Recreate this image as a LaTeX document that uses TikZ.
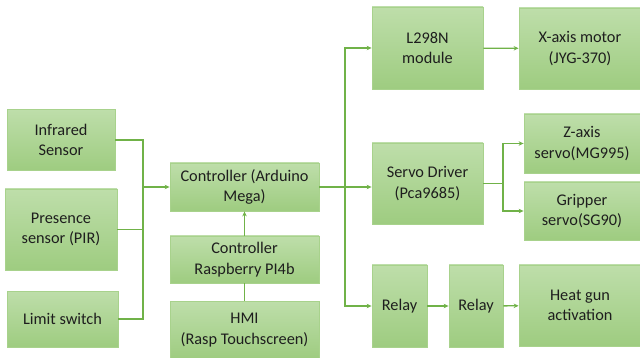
\documentclass[tikz,border=0pt]{standalone}
\usepackage{fontspec}
\setmainfont{Carlito}
\usepackage{tikz}
\usetikzlibrary{arrows.meta}

\definecolor{boxtop}{RGB}{190,222,170}
\definecolor{boxbot}{RGB}{158,204,128}
\definecolor{boxline}{RGB}{168,210,140}
\definecolor{wire}{RGB}{112,178,72}
\definecolor{txt}{RGB}{30,30,30}

\begin{document}
\begin{tikzpicture}[x=1pt,y=-1pt,>={Stealth[length=5pt,width=4.5pt]}]
    \tikzstyle{block}=[draw=boxline,line width=0.8pt,top color=boxtop,bottom color=boxbot,align=center,text=txt,inner sep=0pt,font=\fontsize{16.3}{20.5}\selectfont];
    \tikzstyle{every path}=[wire,line width=1.3pt];
    \useasboundingbox (0,0) rectangle (640,358);

    % sensors
    \node[block,minimum width=108pt,minimum height=61pt] at (61,140)   (ir)  {Infrared\\Sensor};
    \node[block,minimum width=112pt,minimum height=81pt] at (61,229.5) (pir) {Presence\\sensor (PIR)};
    \node[block,minimum width=111pt,minimum height=56pt] at (62.5,319) (lim) {Limit switch};

    % controllers
    \node[block,minimum width=149pt,minimum height=48pt] at (244.5,187)   (ard) {Controller (Arduino\\Mega)};
    \node[block,minimum width=149pt,minimum height=47pt] at (244.5,259.5) (rpi) {Controller\\Raspberry PI4b};
    \node[block,minimum width=149pt,minimum height=58pt] at (244.5,330)   (hmi) {HMI\\(Rasp Touchscreen)};

    % actuators
    \node[block,minimum width=111pt,minimum height=82pt] at (427.5,48)    (l298) {L298N\\module};
    \node[block,minimum width=122pt,minimum height=81pt] at (580,48.5)    (xm)   {X-axis motor\\(JYG-370)};
    \node[block,minimum width=111pt,minimum height=81pt] at (427.5,183.5) (srv)  {Servo Driver\\(Pca9685)};
    \node[block,minimum width=116pt,minimum height=59pt] at (582,143.5)   (zs)   {Z-axis\\servo(MG995)};
    \node[block,minimum width=116pt,minimum height=58pt] at (582,211)     (grp)  {Gripper\\servo(SG90)};
    \node[block,minimum width=55pt,minimum height=82pt]  at (399.5,306)   (r1)   {Relay};
    \node[block,minimum width=54pt,minimum height=82pt]  at (476,306)     (r2)   {Relay};
    \node[block,minimum width=122pt,minimum height=81pt] at (580,305.5)   (heat) {Heat gun\\activation};

    \coordinate (jl) at (143,187);
    \coordinate (jr) at (345,187);
    \coordinate (js) at (503,183.5);

    \draw (ir) -| (jl);
    \draw (pir) -| (jl);
    \draw (lim) -| (jl);
    \draw[->] (jl) -- (ard);
    \draw[->] (rpi) -- (ard);
    \draw (hmi) -- (rpi);

    \draw (ard) -- (jr);
    \draw[->] (jr) |- (l298);
    \draw[->] (jr) -- (jr -| srv.west);
    \draw[->] (jr) |- (r1);
    \draw[->] (l298) -- (xm);
    \draw (srv) -- (js);
    \draw[->] (js) |- (zs);
    \draw[->] (js) |- (grp);
    \draw[->] (r1) -- (r2);
    \draw[->] (r2) -- (heat);
\end{tikzpicture}
\end{document}
